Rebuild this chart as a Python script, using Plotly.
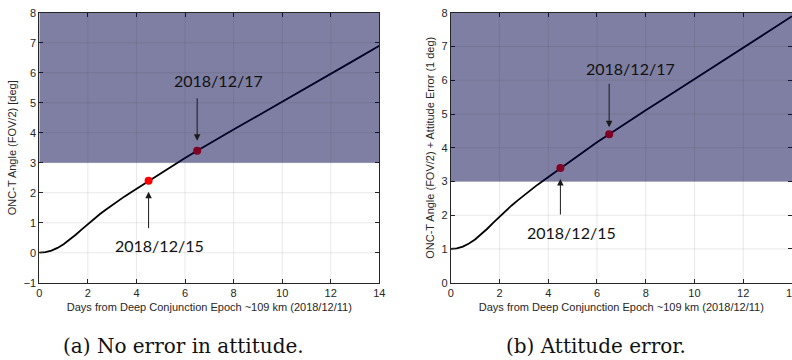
import plotly.graph_objects as go

# Angular position of the target in the ONC-T frame vs. time since deep conjunction
days = [0, 0.25, 0.5, 0.75, 1, 1.25, 1.5, 1.75, 2, 2.25, 2.5, 2.75, 3, 3.25,
        3.5, 3.75, 4, 4.25, 4.5, 4.75, 5, 5.5, 6, 6.5, 7, 7.5, 8, 9, 10,
        11, 12, 13, 14]
angle_no_error = [0, 0.02, 0.07, 0.16, 0.28, 0.43, 0.6, 0.78, 0.96, 1.13,
                  1.29, 1.44, 1.59, 1.73, 1.87, 2.0, 2.13, 2.265, 2.4, 2.53,
                  2.66, 2.91, 3.16, 3.4, 3.64, 3.88, 4.11, 4.57, 5.03, 5.5,
                  5.96, 6.43, 6.9]
angle_with_error = [1, 1.02, 1.07, 1.16, 1.28, 1.43, 1.6, 1.78, 1.96, 2.13,
                    2.29, 2.44, 2.59, 2.73, 2.87, 3.0, 3.13, 3.265, 3.4, 3.53,
                    3.66, 3.91, 4.16, 4.4, 4.64, 4.88, 5.11, 5.57, 6.03, 6.5,
                    6.96, 7.43, 7.9]

# Key dates
event_days = [4.5, 6.5]
event_labels = ["2018/12/15", "2018/12/17"]
event_no_error = [2.4, 3.4]
event_with_error = [3.4, 4.4]

# Half field of view of the camera
fov_half = 3.0

x_ticks = [0, 2, 4, 6, 8, 10, 12, 14]
y_ticks_a = [-1, 0, 1, 2, 3, 4, 5, 6, 7, 8]
y_ticks_b = [0, 1, 2, 3, 4, 5, 6, 7, 8]

x_title = "Days from Deep Conjunction Epoch ~109 km (2018/12/11)"
y_title_a = "ONC-T Angle (FOV/2) [deg]"
y_title_b = "ONC-T Angle (FOV/2) + Attitude Error (1 deg)"
captions = ["(a) No error in attitude.", "(b) Attitude error."]

W, H = 792, 360
AX_COLOR = "#262626"
TICK_FONT = dict(family="Liberation Sans, Arial, sans-serif", size=11, color=AX_COLOR)
SHADE = "rgba(0,0,72,0.5)"
GRID = "rgba(38,38,38,0.10)"
LINE_COLOR = "black"
MARK_COLOR = "#ff0000"

fig = go.Figure()

panels = [
    dict(xa="x", ya="y", y=angle_no_error, ev=event_no_error,
         yr=[-1, 8], yt=y_ticks_a, title=y_title_a, ystand=4,
         dom=[39.3 / W, 379.3 / W]),
    dict(xa="x2", ya="y2", y=angle_with_error, ev=event_with_error,
         yr=[0, 8], yt=y_ticks_b, title=y_title_b, ystand=4,
         dom=[450.7 / W, 1.0]),
]
y_dom = [(H - 282.7) / H, (H - 12.8) / H]

shapes = []
annotations = []
for i, p in enumerate(panels):
    fig.add_trace(go.Scatter(x=days, y=p["y"], mode="lines",
                             line=dict(color=LINE_COLOR, width=1.8),
                             xaxis=p["xa"], yaxis=p["ya"], showlegend=False,
                             hoverinfo="skip"))
    fig.add_trace(go.Scatter(x=event_days, y=p["ev"], mode="markers",
                             marker=dict(color=MARK_COLOR, size=8),
                             xaxis=p["xa"], yaxis=p["ya"], showlegend=False,
                             hoverinfo="skip"))
    xref, yref = p["xa"], p["ya"]
    # region above the half field of view
    shapes.append(dict(type="rect", xref=xref, yref=yref,
                       x0=x_ticks[0], x1=x_ticks[-1], y0=fov_half, y1=p["yr"][1],
                       fillcolor=SHADE, line=dict(width=0), layer="above"))
    # grid drawn over the shading
    for xv in x_ticks[1:-1]:
        shapes.append(dict(type="line", xref=xref, yref=yref,
                           x0=xv, x1=xv, y0=p["yr"][0], y1=p["yr"][1],
                           line=dict(color=GRID, width=1), layer="above"))
    for yv in p["yt"][1:-1]:
        shapes.append(dict(type="line", xref=xref, yref=yref,
                           x0=x_ticks[0], x1=x_ticks[-1], y0=yv, y1=yv,
                           line=dict(color=GRID, width=1), layer="above"))

    ax_key = "xaxis" if i == 0 else "xaxis2"
    ay_key = "yaxis" if i == 0 else "yaxis2"
    fig.update_layout({
        ax_key: dict(domain=p["dom"], range=[x_ticks[0], x_ticks[-1]],
                     tickvals=x_ticks, ticks="inside", ticklen=4,
                     tickcolor=AX_COLOR, showgrid=False, zeroline=False,
                     showline=True, linecolor=AX_COLOR, linewidth=0.8,
                     mirror="ticks", tickfont=TICK_FONT, anchor=p["ya"],
                     automargin=False,
                     ticklabeloverflow="allow", ticklabelstandoff=0,
                     title=dict(text=x_title, font=TICK_FONT, standoff=5)),
        ay_key: dict(domain=y_dom, range=p["yr"], tickvals=p["yt"],
                     ticks="inside", ticklen=4, tickcolor=AX_COLOR,
                     showgrid=False, zeroline=False, showline=True,
                     linecolor=AX_COLOR, linewidth=0.8, mirror="ticks",
                     tickfont=TICK_FONT, anchor=p["xa"], automargin=False,
                     ticklabeloverflow="allow",
                     title=dict(text=p["title"], font=TICK_FONT,
                                standoff=p["ystand"])),
    })

    # date call-outs: upper one points down, lower one points up
    specs = [
        dict(k=1, ay=-54 if i == 0 else -52, standoff=10 if i == 0 else 7,
             xs=21, ys=70 if i == 0 else 66),
        dict(k=0, ay=49 if i == 0 else 48, standoff=11,
             xs=11, ys=-65),
    ]
    for s in specs:
        k = s["k"]
        annotations.append(dict(xref=xref, yref=yref, x=event_days[k], y=p["ev"][k],
                                ax=0, ay=s["ay"], axref="pixel", ayref="pixel",
                                text="", showarrow=True, arrowhead=2,
                                arrowsize=1.3, arrowwidth=1, arrowcolor="#1a1a1a",
                                standoff=s["standoff"]))
        annotations.append(dict(xref=xref, yref=yref, x=event_days[k], y=p["ev"][k],
                                text=event_labels[k], showarrow=False,
                                xshift=s["xs"], yshift=s["ys"],
                                font=dict(family="Lato, Open Sans, sans-serif",
                                          size=16, color="#111111")))

# sub-figure captions
for cx, txt in zip([183.5, 596], captions):
    annotations.append(dict(xref="paper", yref="paper", x=cx / W, y=(H - 346) / H,
                            text=txt, showarrow=False, xanchor="center",
                            yanchor="middle",
                            font=dict(family="DejaVu Serif, Liberation Serif, serif",
                                      size=20, color="#111111")))

fig.update_layout(width=W, height=H, autosize=False,
                  margin=dict(l=0, r=0, t=0, b=0),
                  paper_bgcolor="white", plot_bgcolor="white",
                  shapes=shapes, annotations=annotations)

fig.write_html("out.html")
